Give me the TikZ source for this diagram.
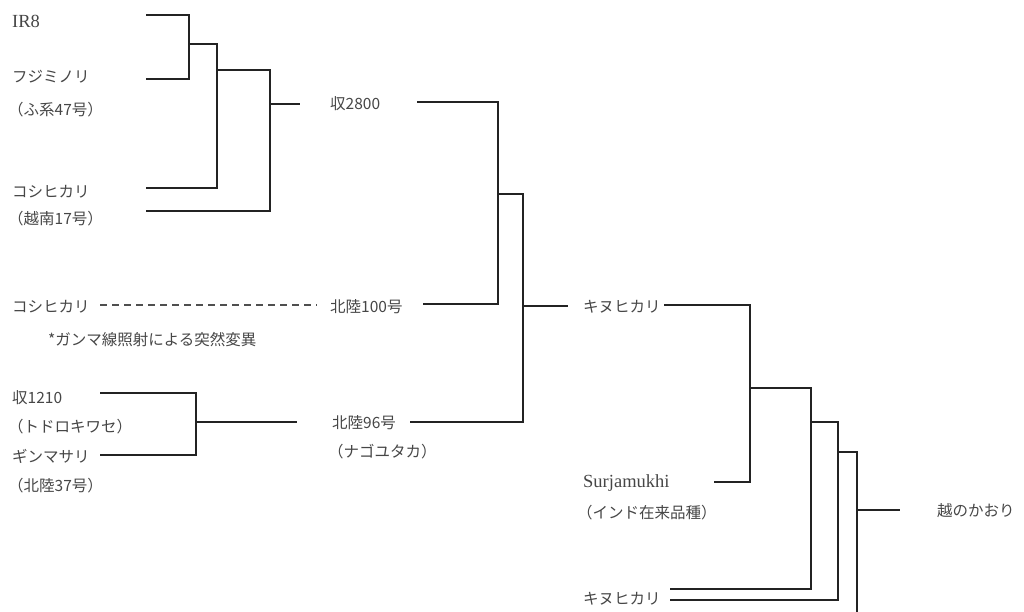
\documentclass[tikz,border=0pt]{standalone}
\usepackage{fontspec}
\setmainfont{Noto Sans CJK JP}
\newfontfamily\latinfont{Liberation Serif}
\usepackage{tikz}
\usetikzlibrary{positioning}

\definecolor{txtgray}{RGB}{70,70,70}
\definecolor{linegray}{RGB}{35,35,35}

\begin{document}
\begin{tikzpicture}[
    x=1pt, y=-1pt,
    font=\fontsize{15.5}{18}\selectfont,
    variety/.style={anchor=west, inner sep=0pt, text=txtgray},
    latin/.style={variety, font=\fontsize{18.5}{20}\selectfont\latinfont},
    link/.style={draw=linegray, line width=1.4pt, line join=miter},
    mutation/.style={draw=linegray!80, line width=2.2pt, dash pattern=on 7pt off 5pt}
  ]
  \useasboundingbox (0,0) rectangle (1024,612);

  % Varieties - left column
  \node[latin] (ir8) at (12,21) {IR8};
  \node[variety] (fuji) at (12,77) {フジミノリ};
  \node[variety] (fuji2) at (8,110) {（ふ系47号）};
  \node[variety] (koshi) at (12,192) {コシヒカリ};
  \node[variety] (koshi2) at (8,219) {（越南17号）};
  \node[variety] (koshi3) at (12,307) {コシヒカリ};
  \node[variety] (gamma) at (48,340) {*ガンマ線照射による突然変異};
  \node[variety] (s1210) at (12,398) {収1210};
  \node[variety] (todo) at (8,427) {（トドロキワセ）};
  \node[variety] (ginma) at (12,456) {ギンマサリ};
  \node[variety] (hk37) at (8,486) {（北陸37号）};

  % Varieties - middle column
  \node[variety] (s2800) at (330,104) {収2800};
  \node[variety] (hk100) at (330,307) {北陸100号};
  \node[variety] (hk96) at (332,423) {北陸96号};
  \node[variety] (nago) at (328,452) {（ナゴユタカ）};

  % Varieties - right columns
  \node[variety] (kinu) at (583,307) {キヌヒカリ};
  \node[latin] (surja) at (583,483) {Surjamukhi};
  \node[variety] (india) at (577,513) {（インド在来品種）};
  \node[variety] (kinu2) at (583,599) {キヌヒカリ};
  \node[variety] (kaori) at (937,511) {越のかおり};

  % Line ends
  \coordinate (ir8e) at (146,15);
  \coordinate (fujie) at (146,79);
  \coordinate (koshie) at (146,188);
  \coordinate (etsue) at (146,211);
  \coordinate (s2800w) at (300,104);
  \coordinate (dashs) at (100,305);
  \coordinate (dashe) at (317,305);
  \coordinate (s1210e) at (100,393);
  \coordinate (ginmae) at (100,455);
  \coordinate (hk96w) at (297,422);
  \coordinate (s2800e) at (417,102);
  \coordinate (hk100e) at (423,304);
  \coordinate (hk96e) at (410,422);
  \coordinate (kinuw) at (568,306);
  \coordinate (kinue) at (664,305);
  \coordinate (surjae) at (714,482);
  \coordinate (kinu2a) at (670,589);
  \coordinate (kinu2b) at (670,600);
  \coordinate (bottom) at (857,616);
  \coordinate (kaoriw) at (900,510);

  % Crossing points
  \coordinate (j1) at (189,44);
  \coordinate (j2) at (217,70);
  \coordinate (j3) at (270,104);
  \coordinate (j4) at (498,194);
  \coordinate (j5) at (523,306);
  \coordinate (j6) at (196,422);
  \coordinate (j7) at (750,388);
  \coordinate (j8) at (811,422);
  \coordinate (j9) at (838,452);
  \coordinate (j10) at (857,510);

  % Crosses
  \draw[link] (ir8e) -| (j1) |- (fujie);
  \draw[link] (j1) -| (j2) |- (koshie);
  \draw[link] (j2) -| (j3) |- (etsue);
  \draw[link] (j3) -- (s2800w);
  \draw[link] (s1210e) -| (j6) |- (ginmae);
  \draw[link] (j6) -- (hk96w);
  \draw[mutation] (dashs) -- (dashe);
  \draw[link] (s2800e) -| (j4) |- (hk100e);
  \draw[link] (j4) -| (j5) |- (hk96e);
  \draw[link] (j5) -- (kinuw);
  \draw[link] (kinue) -| (j7) |- (surjae);
  \draw[link] (j7) -| (j8) |- (kinu2a);
  \draw[link] (j8) -| (j9) |- (kinu2b);
  \draw[link] (j9) -| (j10) -- (bottom);
  \draw[link] (j10) -- (kaoriw);

\end{tikzpicture}
\end{document}
